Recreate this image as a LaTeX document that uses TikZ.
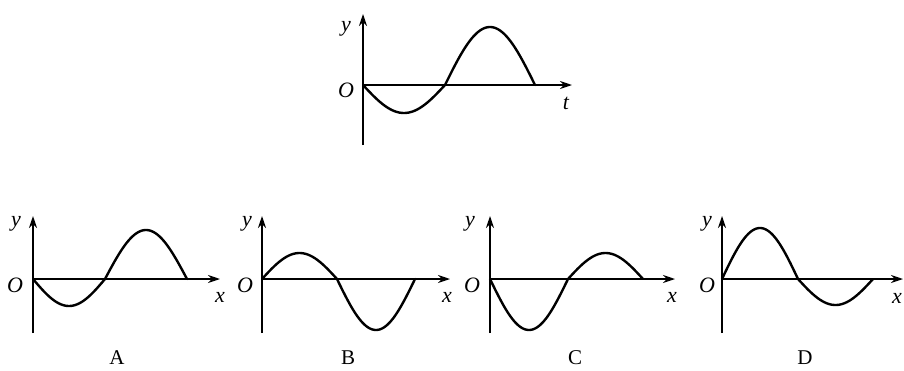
\documentclass[tikz,border=0pt]{standalone}
\usepackage{fontspec}
\setmainfont{Liberation Serif}
\usetikzlibrary{arrows.meta}
\begin{document}
\begin{tikzpicture}[x=1pt,y=-1pt,
  axis/.style={line width=1.8pt,-{Stealth[length=12pt,width=8pt]}},
  plain/.style={line width=1.8pt},
  wave/.style={line width=2.4pt,line join=round,line cap=round},
  lab/.style={font=\fontsize{22}{22}\selectfont\itshape,inner sep=0pt},
  choice/.style={font=\fontsize{21}{21}\selectfont,inner sep=0pt}]
\useasboundingbox[fill=white] (0,0) rectangle (904,370);
% half sine: start x, end x, amplitude (up positive), baseline y
\newcommand{\hw}[4]{\draw[wave] plot[domain=0:180,samples=50] ({#1+(#2-#1)*\x/180},{#4-(#3)*sin(\x)});}
% ---- top graph ----
\coordinate (To) at (363,85);
\coordinate (Tb) at (363,145);
\coordinate (Ty) at (363,14);
\coordinate (Tx) at (572,85);
\draw[plain] (Tb) -- (To);
\draw[axis] (To) -- (Ty);
\draw[axis] (To) -- (Tx);
\hw{363}{445}{-28}{85}
\hw{445}{535}{58}{85}
\node[lab] (TyL) at (346,29) {y};
\node[lab] (ToL) at (346,90) {O};
\node[lab] (TtL) at (566,103) {t};
% ---- A ----
\coordinate (Ao) at (33,279);
\coordinate (Ab) at (33,333);
\coordinate (Ay) at (33,216);
\coordinate (Ax) at (220,279);
\draw[plain] (Ab) -- (Ao);
\draw[axis] (Ao) -- (Ay);
\draw[axis] (Ao) -- (Ax);
\hw{33}{105}{-27}{279}
\hw{105}{187}{49}{279}
\node[lab] (AyL) at (16,224) {y};
\node[lab] (AoL) at (15,285) {O};
\node[lab] (AxL) at (220,297) {x};
\node[choice] (AL) at (117,358) {A};
% ---- B ----
\coordinate (Bo) at (262,279);
\coordinate (Bb) at (262,333);
\coordinate (By) at (262,216);
\coordinate (Bx) at (450,279);
\draw[plain] (Bb) -- (Bo);
\draw[axis] (Bo) -- (By);
\draw[axis] (Bo) -- (Bx);
\hw{262}{337}{26}{279}
\hw{337}{415}{-51}{279}
\node[lab] (ByL) at (247,224) {y};
\node[lab] (BoL) at (245,285) {O};
\node[lab] (BxL) at (447,297) {x};
\node[choice] (BL) at (348,358) {B};
% ---- C ----
\coordinate (Co) at (490,279);
\coordinate (Cb) at (490,333);
\coordinate (Cy) at (490,216);
\coordinate (Cx) at (675,279);
\draw[plain] (Cb) -- (Co);
\draw[axis] (Co) -- (Cy);
\draw[axis] (Co) -- (Cx);
\hw{490}{568}{-51}{279}
\hw{568}{643}{26}{279}
\node[lab] (CyL) at (470,224) {y};
\node[lab] (CoL) at (472,285) {O};
\node[lab] (CxL) at (672,297) {x};
\node[choice] (CL) at (575,358) {C};
% ---- D ----
\coordinate (Do) at (722,279);
\coordinate (Db) at (722,333);
\coordinate (Dy) at (722,216);
\coordinate (Dx) at (903,279);
\draw[plain] (Db) -- (Do);
\draw[axis] (Do) -- (Dy);
\draw[axis] (Do) -- (Dx);
\hw{722}{798}{51}{279}
\hw{798}{873}{-26}{279}
\node[lab] (DyL) at (707,224) {y};
\node[lab] (DoL) at (707,285) {O};
\node[lab] (DxL) at (897,298) {x};
\node[choice] (DL) at (805,358) {D};
\end{tikzpicture}
\end{document}
